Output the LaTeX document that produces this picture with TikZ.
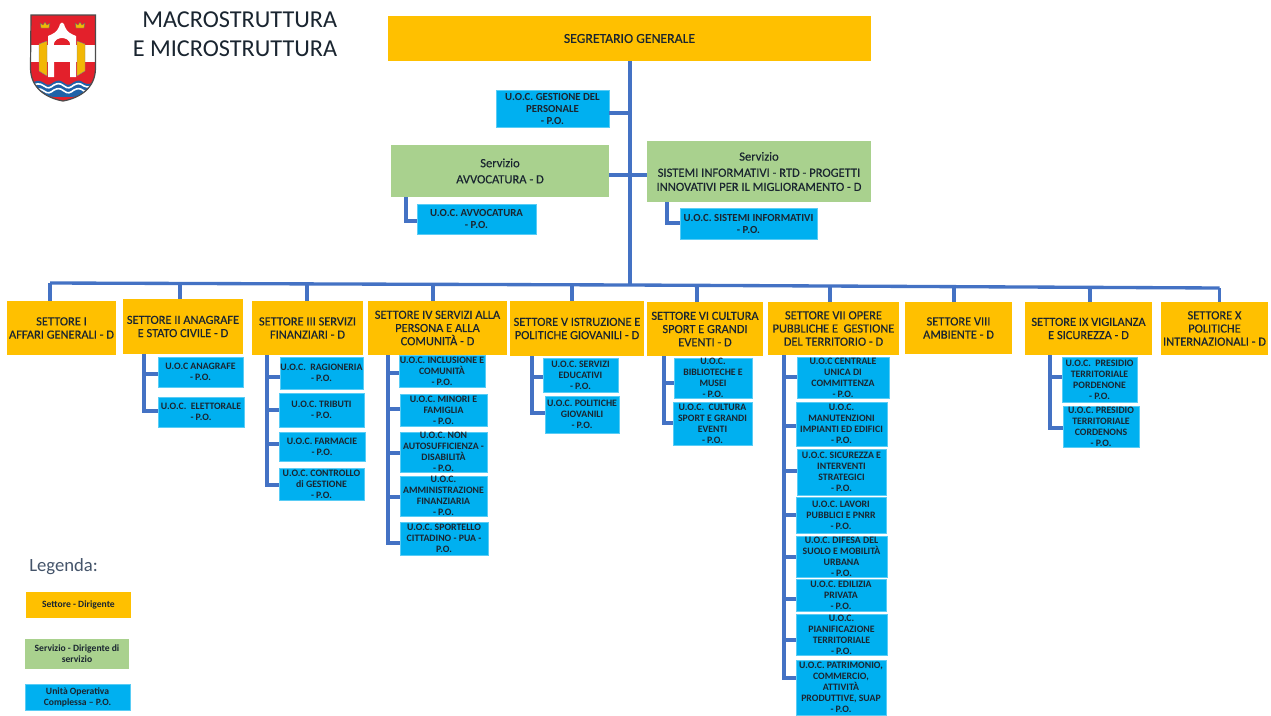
\documentclass[tikz,border=0pt]{standalone}
\usepackage{fontspec}
\setmainfont{Carlito}
\newfontfamily\heavyfont[FakeBold=0.35]{Carlito}
\definecolor{setcol}{HTML}{FFC000}
\definecolor{sercol}{HTML}{A9D18E}
\definecolor{uoccol}{HTML}{00B0F0}
\definecolor{linecol}{HTML}{4472C4}
\definecolor{inkcol}{HTML}{1A2530}
\definecolor{legcol}{HTML}{44546A}
\definecolor{shred}{HTML}{E3202B}
\definecolor{shblue}{HTML}{1F62A8}
\definecolor{shyel}{HTML}{F2B705}
\newcommand{\szA}{\heavyfont\fontsize{9.3pt}{9.9pt}\selectfont}
\newcommand{\szB}{\fontsize{7.35pt}{8.3pt}\selectfont\bfseries}
\newcommand{\szD}{\fontsize{8.1pt}{9pt}\selectfont\bfseries}
\newcommand{\szC}{\heavyfont\fontsize{9.4pt}{10.6pt}\selectfont}
\newcommand{\szL}{\fontsize{7.2pt}{8.4pt}\selectfont\bfseries}
\tikzset{
  boxbase/.style={inner sep=0pt,align=center,text=inkcol},
  setbox/.style={boxbase,fill=setcol,font=\szA},
  serbox/.style={boxbase,fill=sercol,font=\szC},
  uocbox/.style={boxbase,fill=uoccol,font=\szB,draw=uoccol!65!white,line width=0.5pt},
  uocbig/.style={uocbox,font=\szD},
  conn/.style={draw=linecol,line width=2.5pt,line join=miter},
}
% name, style, x0, y0, x1, y1, text
\newcommand{\bx}[7]{%
  \pgfmathsetmacro{\bw}{(#5-#3)*0.75}%
  \pgfmathsetmacro{\bh}{(#6-#4)*0.75}%
  \pgfmathsetmacro{\bcx}{(#3+#5)/2}%
  \pgfmathsetmacro{\bcy}{(#4+#6)/2}%
  \node[#2,minimum width=\bw pt,minimum height=\bh pt] (#1) at (\bcx,\bcy) {#7};%
}
\newcommand{\link}[3]{\draw[conn] (#1) |- (#2.west |- 0,#3);}
\begin{document}
\begin{tikzpicture}[x=0.75pt,y=-0.75pt]
\useasboundingbox (0,0) rectangle (1271,715);
\fill[white] (0,0) rectangle (1271,715);

% ---- coat of arms
\begin{scope}
  \path[save path=\shieldpath] (31,15) -- (95.5,15) -- (95.5,68) .. controls (95.5,88) and (80,98) .. (63,101) .. controls (46,98) and (30.5,88) .. (30.5,68) -- cycle;
  \fill[shred,use path=\shieldpath];
  \begin{scope}
    \clip[use path=\shieldpath];
    \fill[white] (30,45) rectangle (97,62);
    \fill[shblue] (30,84) .. controls (36,80) and (40,80) .. (44,83) .. controls (48,86) and (50,85) .. (54,82) .. controls (58,80) and (60,80) .. (64,83) .. controls (68,86) and (70,85) .. (74,82) .. controls (78,80) and (80,80) .. (84,83) .. controls (88,85) and (92,84) .. (97,80) -- (97,91) .. controls (90,96) and (78,97) .. (63,97) .. controls (48,97) and (38,96) .. (30,91) -- cycle;
    \draw[white,line width=1.2pt] (30,87) .. controls (36,83) and (40,83) .. (44,86) .. controls (48,89) and (50,88) .. (54,85) .. controls (58,83) and (60,83) .. (64,86) .. controls (68,89) and (70,88) .. (74,85) .. controls (78,83) and (80,83) .. (84,86) .. controls (88,88) and (92,87) .. (97,83);
    \draw[white,line width=1.2pt] (30,92) .. controls (36,88) and (40,88) .. (44,91) .. controls (48,94) and (50,93) .. (54,90) .. controls (58,88) and (60,88) .. (64,91) .. controls (68,94) and (70,93) .. (74,90) .. controls (78,88) and (80,88) .. (84,91) .. controls (88,93) and (92,92) .. (97,88);
  \end{scope}
  \draw[black!70,line width=0.9pt,use path=\shieldpath];
  \fill[white] (48,77) -- (48,36) .. controls (53,34) and (57,32) .. (59,27) -- (60,24) .. controls (61,22) and (63,22) .. (64,24) -- (65,27) .. controls (67,32) and (71,34) .. (76,36) -- (76,77) -- (70,77) -- (70,45) .. controls (70,36) and (54,36) .. (54,45) -- (54,77) -- cycle;
  \fill[shred] (54,45) .. controls (54,36) and (70,36) .. (70,45) -- cycle;
  \fill[shyel,draw=black!50,line width=0.3pt] (39,44) -- (47,41) -- (47,76) -- (39,71) -- cycle;
  \fill[shyel,draw=black!50,line width=0.3pt] (85,44) -- (77,41) -- (77,76) -- (85,71) -- cycle;
  \fill[shyel,draw=black!60,line width=0.3pt] (40,23) -- (43,25) -- (45,22) -- (47,25) -- (50,23) -- (49,28) -- (41,28) -- cycle;
  \fill[shyel,draw=black!60,line width=0.3pt] (75,23) -- (78,25) -- (80,22) -- (82,25) -- (85,23) -- (84,28) -- (76,28) -- cycle;
\end{scope}

% ---- title and legend captions
\node[anchor=base east,inner sep=0pt,text=inkcol,font=\fontsize{18.2pt}{20pt}\selectfont] (t1) at (337.5,27.5) {MACROSTRUTTURA};
\node[anchor=base east,inner sep=0pt,text=inkcol,font=\fontsize{18.2pt}{20pt}\selectfont] (t2) at (337.5,56) {E MICROSTRUTTURA};
\node[anchor=base west,inner sep=0pt,text=legcol,font=\fontsize{14pt}{16pt}\selectfont] (leg) at (29,571) {Legenda:};

% ---- top level
\bx{seg}{setbox,font=\heavyfont\fontsize{10.3pt}{12pt}\selectfont}{388}{16}{871}{61}{SEGRETARIO GENERALE}
\bx{uper}{uocbig}{496}{90}{609}{127}{U.O.C. GESTIONE DEL\\PERSONALE\\- P.O.}
\bx{savv}{serbox}{391}{145}{609}{197}{Servizio\\[1.5pt]AVVOCATURA - D}
\bx{ssis}{serbox}{647}{141}{871}{202}{Servizio\\[1.5pt]SISTEMI INFORMATIVI - RTD - PROGETTI\\INNOVATIVI PER IL MIGLIORAMENTO - D}
\bx{uavv}{uocbig}{417}{204}{536}{234}{U.O.C. AVVOCATURA\\- P.O.}
\bx{usis}{uocbig}{680}{208}{817}{239}{U.O.C. SISTEMI INFORMATIVI\\- P.O.}

% ---- sectors
\bx{s1}{setbox}{7}{301}{116}{355}{SETTORE I\\AFFARI GENERALI - D}
\bx{s2}{setbox}{123}{299}{243}{354}{SETTORE II ANAGRAFE\\E STATO CIVILE - D}
\bx{s3}{setbox}{252}{301}{363}{355}{SETTORE III SERVIZI\\FINANZIARI - D}
\bx{s4}{setbox}{368}{301}{507}{355}{SETTORE IV SERVIZI ALLA\\PERSONA E ALLA\\COMUNITÀ - D}
\bx{s5}{setbox}{510}{301}{644}{356}{SETTORE V ISTRUZIONE E\\POLITICHE GIOVANILI - D}
\bx{s6}{setbox}{647}{302}{763}{356}{SETTORE VI CULTURA\\SPORT E GRANDI\\EVENTI - D}
\bx{s7}{setbox}{768}{302}{899}{355}{SETTORE VII OPERE\\PUBBLICHE E~ GESTIONE\\DEL TERRITORIO - D}
\bx{s8}{setbox}{905}{302}{1012}{354}{SETTORE VIII\\AMBIENTE - D}
\bx{s9}{setbox}{1025}{302}{1152}{355}{SETTORE IX VIGILANZA\\E SICUREZZA - D}
\bx{s10}{setbox}{1161}{302}{1268}{355}{SETTORE X\\POLITICHE\\INTERNAZIONALI - D}

% ---- units
\bx{u2a}{uocbox}{158}{357}{243}{387}{U.O.C ANAGRAFE\\- P.O.}
\bx{u2b}{uocbox}{158}{397}{244}{427}{U.O.C.~ ELETTORALE\\- P.O.}

\bx{u3a}{uocbox}{280}{357}{363}{389}{U.O.C.~ RAGIONERIA\\- P.O.}
\bx{u3b}{uocbox}{279}{393}{364}{427}{U.O.C. TRIBUTI\\- P.O.}
\bx{u3c}{uocbox}{279}{432}{365}{461}{U.O.C. FARMACIE\\- P.O.}
\bx{u3d}{uocbox}{279}{468}{364}{500}{U.O.C. CONTROLLO\\di GESTIONE\\- P.O.}

\bx{u4a}{uocbox}{399}{355}{485}{387}{U.O.C. INCLUSIONE E\\COMUNITÀ\\- P.O.}
\bx{u4b}{uocbox}{400}{394}{487}{426}{U.O.C. MINORI E\\FAMIGLIA\\- P.O.}
\bx{u4c}{uocbox}{400}{432}{487}{472}{U.O.C. NON\\AUTOSUFFICIENZA -\\DISABILITÀ\\- P.O.}
\bx{u4d}{uocbox}{400}{476}{487}{516}{U.O.C.\\AMMINISTRAZIONE\\FINANZIARIA\\- P.O.}
\bx{u4e}{uocbox}{400}{522}{488}{555}{U.O.C. SPORTELLO\\CITTADINO - PUA -\\P.O.}

\bx{u5a}{uocbox}{543}{358}{618}{392}{U.O.C. SERVIZI\\EDUCATIVI\\- P.O.}
\bx{u5b}{uocbox}{545}{396}{619}{433}{U.O.C. POLITICHE\\GIOVANILI\\- P.O.}

\bx{u6a}{uocbox}{674}{358}{752}{398}{U.O.C.\\BIBLIOTECHE E\\MUSEI\\- P.O.}
\bx{u6b}{uocbox}{673}{402}{752}{445}{U.O.C.~ CULTURA\\SPORT E GRANDI\\EVENTI\\- P.O.}

\bx{u7a}{uocbox}{797}{357}{889}{398}{U.O.C CENTRALE\\UNICA DI\\COMMITTENZA\\- P.O.}
\bx{u7b}{uocbox}{796}{402}{887}{446}{U.O.C.\\MANUTENZIONI\\IMPIANTI ED EDIFICI\\- P.O.}
\bx{u7c}{uocbox}{797}{449}{886}{495}{U.O.C. SICUREZZA E\\INTERVENTI\\STRATEGICI\\- P.O.}
\bx{u7d}{uocbox}{796}{497}{886}{533}{U.O.C. LAVORI\\PUBBLICI E PNRR\\- P.O.}
\bx{u7e}{uocbox}{796}{536}{887}{577}{U.O.C. DIFESA DEL\\SUOLO E MOBILITÀ\\URBANA\\- P.O.}
\bx{u7f}{uocbox}{796}{579}{886}{611}{U.O.C. EDILIZIA\\PRIVATA\\- P.O.}
\bx{u7g}{uocbox}{796}{614}{887}{655}{U.O.C.\\PIANIFICAZIONE\\TERRITORIALE\\- P.O.}
\bx{u7h}{uocbox}{796}{660}{886}{715}{U.O.C. PATRIMONIO,\\COMMERCIO,\\ATTIVITÀ\\PRODUTTIVE, SUAP\\- P.O.}

\bx{u9a}{uocbox}{1062}{357}{1137}{402}{U.O.C.~ PRESIDIO\\TERRITORIALE\\PORDENONE\\- P.O.}
\bx{u9b}{uocbox}{1063}{406}{1139}{447}{U.O.C. PRESIDIO\\TERRITORIALE\\CORDENONS\\- P.O.}

% ---- legend
\bx{l1}{setbox,font=\szL}{26}{592}{131}{618}{Settore - Dirigente}
\bx{l2}{serbox,font=\szL}{25}{639}{129}{669}{Servizio - Dirigente di\\servizio}
\bx{l3}{uocbox,font=\szL}{25}{684}{130}{710}{Unità Operativa\\Complessa – P.O.}

% ---- connectors: trunk and bus
\coordinate (bus) at (630,285);
\coordinate (j1) at (50,283);
\coordinate (j2) at (180,283.5);
\coordinate (j3) at (307,284);
\coordinate (j4) at (433,284.5);
\coordinate (j5) at (572,285);
\coordinate (j6) at (697,286);
\coordinate (j7) at (830,286.5);
\coordinate (j8) at (954,287);
\coordinate (j9) at (1090,287.5);
\coordinate (j10) at (1219.5,288);
\draw[conn] (seg.south -| bus) -- (bus);
\draw[conn] (j1) -- (bus) -- (j10);
\foreach \i in {1,...,10} {\draw[conn] (j\i) -- (j\i |- s\i.north);}
\draw[conn] (uper.east |- 0,113) -- (bus |- 0,113);
\draw[conn] (savv.east |- 0,175) -- (ssis.west |- 0,175);
% service units
\coordinate (pavv) at (406,197);
\coordinate (psis) at (667,202);
\link{pavv}{uavv}{221}
\link{psis}{usis}{223}
% sector spines
\coordinate (p2) at (144,354);
\link{p2}{u2a}{374} \link{p2}{u2b}{411}
\coordinate (p3) at (267,355);
\link{p3}{u3a}{377} \link{p3}{u3b}{410} \link{p3}{u3c}{444} \link{p3}{u3d}{485}
\coordinate (p4) at (388,355);
\link{p4}{u4a}{373} \link{p4}{u4b}{409} \link{p4}{u4c}{453} \link{p4}{u4d}{497} \link{p4}{u4e}{543}
\coordinate (p5) at (532,356);
\link{p5}{u5a}{377} \link{p5}{u5b}{413}
\coordinate (p6) at (664,356);
\link{p6}{u6a}{383} \link{p6}{u6b}{423}
\coordinate (p7) at (784,355);
\link{p7}{u7a}{377} \link{p7}{u7b}{426} \link{p7}{u7c}{471} \link{p7}{u7d}{515} \link{p7}{u7e}{557} \link{p7}{u7f}{599} \link{p7}{u7g}{640} \link{p7}{u7h}{678}
\coordinate (p9) at (1050,355);
\link{p9}{u9a}{377} \link{p9}{u9b}{428}
\end{tikzpicture}
\end{document}
